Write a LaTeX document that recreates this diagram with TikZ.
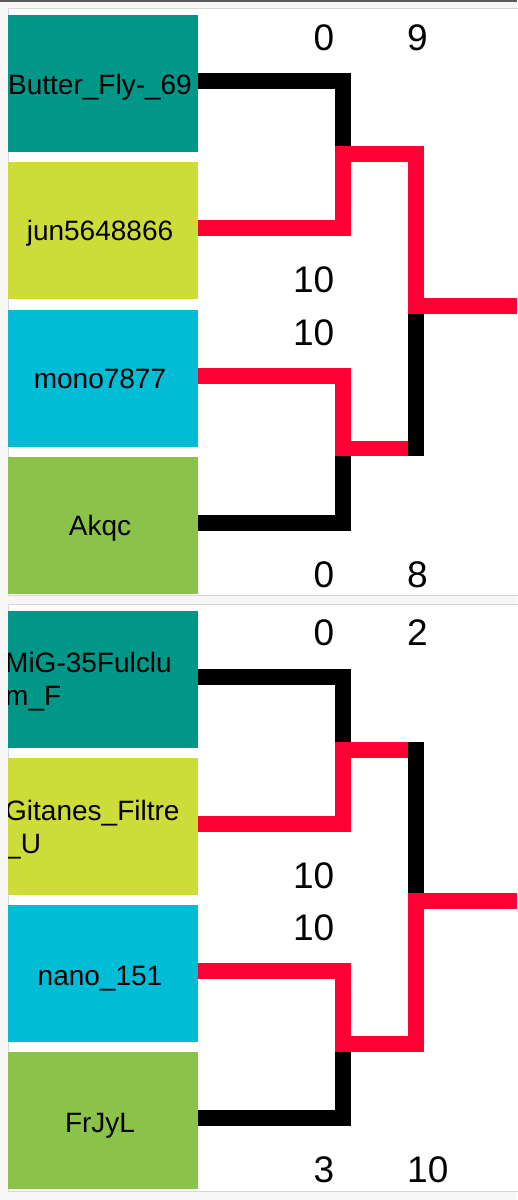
\documentclass[tikz,border=0pt]{standalone}
\usepackage{fontspec}
\setmainfont{Liberation Sans}
\definecolor{teal1}{HTML}{009688}
\definecolor{lime1}{HTML}{CDDC39}
\definecolor{cyan1}{HTML}{00BCD4}
\definecolor{green1}{HTML}{8BC34A}
\definecolor{red1}{HTML}{FF0033}
\definecolor{bgc}{HTML}{F6F6F6}
\definecolor{cardline}{HTML}{D8D8D8}
\definecolor{topbar}{HTML}{5A5A5A}
\begin{document}
\begin{tikzpicture}[x=1pt,y=-1pt,
  playerbox/.style={anchor=north west,minimum width=190pt,minimum height=136.5pt,inner sep=0pt,outer sep=0pt},
  plabel/.style={anchor=base,inner sep=0pt,font=\fontsize{28}{32}\selectfont},
  plabell/.style={anchor=base west,inner sep=0pt,font=\fontsize{28}{32}\selectfont},
  scorer/.style={anchor=base east,inner sep=0pt,font=\fontsize{37}{40}\selectfont},
  scorel/.style={anchor=base west,inner sep=0pt,font=\fontsize{37}{40}\selectfont},
  blk/.style={draw=black,line width=15.5pt,line join=miter},
  rd/.style={draw=red1,line width=15.5pt,line join=miter},
  ls/.style={yshift=2.5pt}]
\useasboundingbox (0,0) rectangle (517,1200);
\fill[bgc] (0,0) rectangle (517,1200);
\fill[topbar] (0,0) rectangle (517,2);
\filldraw[fill=white,draw=cardline,line width=1pt] (8,8) rectangle (540,595);
\filldraw[fill=white,draw=cardline,line width=1pt] (8,604) rectangle (540,1191);

% boxes panel 1
\node[playerbox,fill=teal1] (b1) at (8,15) {};
\node[playerbox,fill=lime1] (b2) at (8,162) {};
\node[playerbox,fill=cyan1] (b3) at (8,310) {};
\node[playerbox,fill=green1] (b4) at (8,457) {};
% boxes panel 2
\node[playerbox,fill=teal1] (b5) at (8,611) {};
\node[playerbox,fill=lime1] (b6) at (8,758) {};
\node[playerbox,fill=cyan1] (b7) at (8,905) {};
\node[playerbox,fill=green1] (b8) at (8,1052) {};

% names
\node[plabel] (t1) at (100,94) {Butter\_Fly-\_69};
\node[plabel] (t2) at (100,240) {jun5648866};
\node[plabel] (t3) at (100,388) {mono7877};
\node[plabel] (t4) at (100,535) {Akqc};
\begin{scope}
\clip (b5.north west) rectangle (b5.south east);
\node[plabell] (t5a) at (5,672) {MiG-35Fulclu};
\node[plabell] (t5b) at (5,705) {m\_F};
\end{scope}
\begin{scope}
\clip (b6.north west) rectangle (b6.south east);
\node[plabell] (t6a) at (5,820) {Gitanes\_Filtre};
\node[plabell] (t6b) at (5,853) {\_U};
\end{scope}
\node[plabel] (t7) at (100,985) {nano\_151};
\node[plabel] (t8) at (100,1132) {FrJyL};

% junctions
\coordinate (m1) at (343,154);
\coordinate (m2) at (343,448.5);
\coordinate (f1) at (416,306);
\coordinate (e1) at (517,306);
\coordinate (m3) at (343,750);
\coordinate (m4) at (343,1044);
\coordinate (f2) at (416,901);
\coordinate (e2) at (517,901);

% panel 1 connectors
\draw[blk] ([ls]b1.east) -| (m1);
\draw[blk] ([ls]b4.east) -| (m2);
\draw[rd] ([ls]b3.east) -| (m2) -- (m2 -| f1);
\draw[blk,line cap=rect] (m2 -| f1) -- (f1);
\draw[rd] ([ls]b2.east) -| (m1) -| (f1) -- (e1);

% panel 2 connectors
\draw[blk] ([ls]b5.east) -| (m3);
\draw[rd] ([ls]b6.east) -| (m3) -- (m3 -| f2);
\draw[blk,line cap=rect] (m3 -| f2) -- (f2);
\draw[blk] ([ls]b8.east) -| (m4);
\draw[rd] ([ls]b7.east) -| (m4) -| (f2) -- (e2);

% scores panel 1
\node[scorer] (s1) at (334.5,50) {0};
\node[scorer] (s2) at (334.5,292.5) {10};
\node[scorer] (s3) at (334.5,345) {10};
\node[scorer] (s4) at (334.5,587) {0};
\node[scorel] (s5) at (407,50) {9};
\node[scorel] (s6) at (407,587) {8};
% scores panel 2
\node[scorer] (s7) at (334.5,645) {0};
\node[scorer] (s8) at (334.5,888) {10};
\node[scorer] (s9) at (334.5,940) {10};
\node[scorer] (s10) at (334.5,1182) {3};
\node[scorel] (s11) at (407,645) {2};
\node[scorel] (s12) at (407,1182) {10};
\end{tikzpicture}
\end{document}
